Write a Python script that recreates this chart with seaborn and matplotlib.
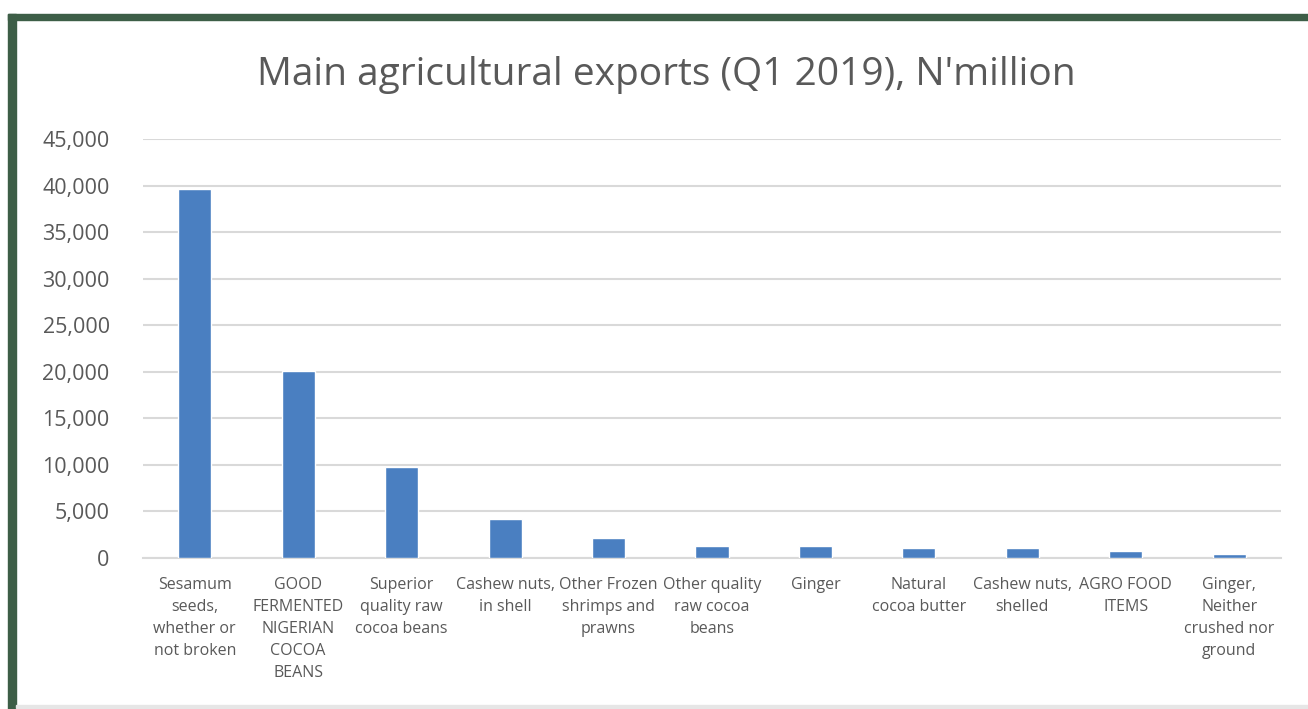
import matplotlib
matplotlib.use("Agg")
import matplotlib.pyplot as plt
import matplotlib.patches as mpatches
import matplotlib.ticker as mticker
import seaborn as sns
import pandas as pd

categories = [
    "Sesamum\nseeds,\nwhether or\nnot broken",
    "GOOD\nFERMENTED\nNIGERIAN\nCOCOA\nBEANS",
    "Superior\nquality raw\ncocoa beans",
    "Cashew nuts,\nin shell",
    "Other Frozen\nshrimps and\nprawns",
    "Other quality\nraw cocoa\nbeans",
    "Ginger",
    "Natural\ncocoa butter",
    "Cashew nuts,\nshelled",
    "AGRO FOOD\nITEMS",
    "Ginger,\nNeither\ncrushed nor\nground",
]
values = [39600, 20100, 9800, 4200, 2200, 1250, 1250, 1100, 1100, 700, 400]
yticks = [0, 5000, 10000, 15000, 20000, 25000, 30000, 35000, 40000, 45000]
title = "Main agricultural exports (Q1 2019), N'million"

sns.set_theme(style="white")
plt.rcParams['font.family'] = ['Open Sans', 'DejaVu Sans']

W, H = 1308, 709
fig = plt.figure(figsize=(W / 100, H / 100), dpi=100)
fig.patch.set_facecolor("white")

# decorative frame
green = "#3d5e47"
fig.patches.append(mpatches.Rectangle((8 / W, 1 - 20 / H), 1 - 8 / W, 6 / H,
                                      transform=fig.transFigure, color=green, zorder=0))
fig.patches.append(mpatches.Rectangle((8 / W, 0), 8 / W, 1 - 14 / H,
                                      transform=fig.transFigure, color=green, zorder=0))
fig.patches.append(mpatches.Rectangle((16 / W, 1 / H), 1 - 16 / W, 3 / H,
                                      transform=fig.transFigure, color="#e6e6e6", zorder=0))

ax = fig.add_axes([143 / W, 1 - 558 / H, (1281 - 143) / W, (558 - 139) / H])
df = pd.DataFrame({"cat": categories, "val": values})
sns.barplot(data=df, x="cat", y="val", color="#4a7fc1", width=0.32, saturation=1, ax=ax, zorder=3)

ax.set_ylim(0, 45000)
ax.set_xlim(-0.5, len(categories) - 0.5)
ax.set_yticks(yticks)
ax.yaxis.set_major_formatter(mticker.FuncFormatter(lambda v, p: f"{int(v):,}"))
ax.grid(axis="y", color="#d9d9d9", linewidth=1.5, zorder=0)
ax.grid(axis="x", visible=False)
for s in ["top", "right", "left"]:
    ax.spines[s].set_visible(False)
ax.spines["bottom"].set_color("#d9d9d9")
ax.spines["bottom"].set_linewidth(1.5)
ax.tick_params(axis="y", length=0, pad=24, labelsize=15.5, labelcolor="#595959")
ax.tick_params(axis="x", length=0, pad=14, labelsize=11.5, labelcolor="#595959")
for lab in ax.get_xticklabels():
    lab.set_linespacing(1.5)
ax.set_xlabel("")
ax.set_ylabel("")

fig.text(666 / W, 1 - 75 / H, title, ha="center", va="center", fontsize=28, color="#595959")

fig.savefig("out.png", dpi=100)
